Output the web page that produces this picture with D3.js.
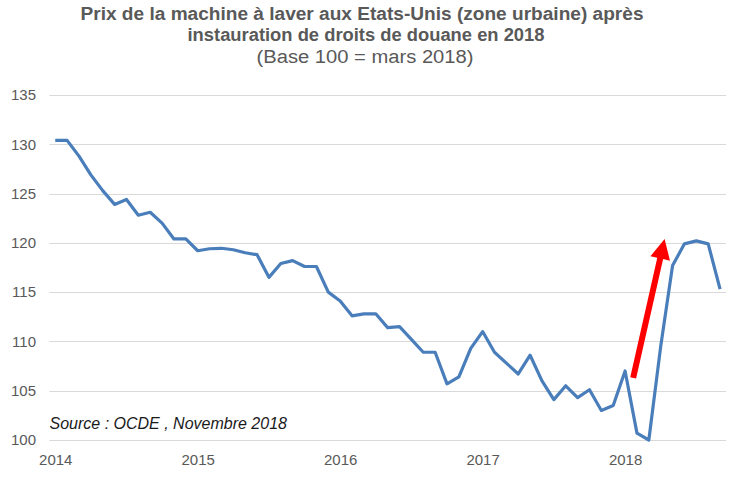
<!DOCTYPE html>
<html>
<head>
<meta charset="utf-8">
<script src="https://cdn.jsdelivr.net/npm/d3@7"></script>
<style>
  html, body { margin: 0; padding: 0; background: #fff; }
  svg { display: block; font-family: "Liberation Sans", Arial, sans-serif; }
</style>
</head>
<body>
<svg id="chart" width="742" height="478"></svg>
<script>
// ---- Data ----
const titleLines = [
  "Prix de la machine à laver aux Etats-Unis (zone urbaine) après",
  "instauration de droits de douane en 2018"
];
const subtitle = "(Base 100 = mars 2018)";
const sourceText = "Source : OCDE , Novembre 2018";

const months = [
  "2014-01","2014-02","2014-03","2014-04","2014-05","2014-06","2014-07","2014-08","2014-09","2014-10","2014-11","2014-12",
  "2015-01","2015-02","2015-03","2015-04","2015-05","2015-06","2015-07","2015-08","2015-09","2015-10","2015-11","2015-12",
  "2016-01","2016-02","2016-03","2016-04","2016-05","2016-06","2016-07","2016-08","2016-09","2016-10","2016-11","2016-12",
  "2017-01","2017-02","2017-03","2017-04","2017-05","2017-06","2017-07","2017-08","2017-09","2017-10","2017-11","2017-12",
  "2018-01","2018-02","2018-03","2018-04","2018-05","2018-06","2018-07","2018-08","2018-09"
];
const priceIndex = [
  130.4,130.4,128.8,126.9,125.3,123.9,124.4,122.8,123.1,122.0,120.4,120.4,
  119.2,119.4,119.45,119.3,119.0,118.8,116.5,117.9,118.2,117.6,117.6,115.0,
  114.1,112.6,112.8,112.8,111.4,111.5,110.2,108.9,108.9,105.7,106.4,109.3,
  111.0,108.9,107.8,106.7,108.6,106.0,104.1,105.5,104.3,105.1,103.0,103.5,
  107.0,100.7,100.0,109.5,117.7,119.9,120.2,119.9,115.3
];
const yTicks = [100,105,110,115,120,125,130,135];
const xTickMonths = ["2014-01","2015-01","2016-01","2017-01","2018-01"];
const xTickLabels = ["2014","2015","2016","2017","2018"];
// arrow annotation (month position, index value): tail -> tip
const arrowFrom = [48.68, 106.3];
const arrowTo = [51.33, 120.4];

// ---- Layout ----
const svg = d3.select("#chart");
const plot = { left: 49.3, right: 726, top: 95, bottom: 440 };

const x = d3.scaleLinear().domain([-0.5, months.length - 0.5]).range([plot.left, plot.right]);
const y = d3.scaleLinear().domain([100, 135]).range([plot.bottom, plot.top]);

// Title
const titleG = svg.append("g").attr("fill", "#595959").attr("text-anchor", "middle");
titleG.append("text").attr("x", 362).attr("y", 20).attr("font-size", 18).attr("font-weight", "bold")
  .attr("textLength", 563).attr("lengthAdjust", "spacingAndGlyphs").text(titleLines[0]);
titleG.append("text").attr("x", 366).attr("y", 41).attr("font-size", 18).attr("font-weight", "bold")
  .attr("textLength", 357).attr("lengthAdjust", "spacingAndGlyphs").text(titleLines[1]);
titleG.append("text").attr("x", 365).attr("y", 63).attr("font-size", 18)
  .attr("textLength", 217).attr("lengthAdjust", "spacingAndGlyphs").text(subtitle);

// Gridlines
svg.append("g").selectAll("line").data(yTicks).join("line")
  .attr("x1", plot.left).attr("x2", plot.right)
  .attr("y1", d => Math.round(y(d)) + 0.5).attr("y2", d => Math.round(y(d)) + 0.5)
  .attr("stroke", "#D9D9D9").attr("stroke-width", 1);

// Y axis labels
const yAxis = d3.axisLeft(y).tickValues(yTicks).tickSize(0).tickPadding(0);
const yG = svg.append("g").attr("transform", `translate(36,0)`).call(yAxis);
yG.select(".domain").remove();
yG.selectAll("text").attr("font-size", 15).attr("fill", "#595959")
  .attr("font-family", "Liberation Sans, Arial, sans-serif");

// X axis labels
const monthIndex = m => months.indexOf(m);
const xAxis = d3.axisBottom(x).tickValues(xTickMonths.map(monthIndex))
  .tickFormat((d, i) => xTickLabels[i]).tickSize(0).tickPadding(0);
const xG = svg.append("g").attr("transform", `translate(0,${plot.bottom + 14})`).call(xAxis);
xG.select(".domain").remove();
xG.selectAll("text").attr("font-size", 15).attr("fill", "#595959")
  .attr("font-family", "Liberation Sans, Arial, sans-serif");

// Line
const line = d3.line().x((d, i) => x(i)).y(d => y(d)).curve(d3.curveLinear);
svg.append("path").datum(priceIndex)
  .attr("d", line)
  .attr("fill", "none")
  .attr("stroke", "#4A7EBB")
  .attr("stroke-width", 3.2)
  .attr("stroke-linejoin", "round")
  .attr("stroke-linecap", "butt");

// Red arrow
(function drawArrow() {
  const x0 = x(arrowFrom[0]), y0 = y(arrowFrom[1]);
  const x1 = x(arrowTo[0]), y1 = y(arrowTo[1]);
  const dx = x1 - x0, dy = y1 - y0, len = Math.hypot(dx, dy);
  const ux = dx / len, uy = dy / len, nx = -uy, ny = ux;
  const shaftW = 6, headL = 20, headW = 20;
  const bx = x1 - ux * headL, by = y1 - uy * headL;
  const pts = [
    [x0 + nx * shaftW / 2, y0 + ny * shaftW / 2],
    [bx + nx * shaftW / 2, by + ny * shaftW / 2],
    [bx + nx * headW / 2, by + ny * headW / 2],
    [x1, y1],
    [bx - nx * headW / 2, by - ny * headW / 2],
    [bx - nx * shaftW / 2, by - ny * shaftW / 2],
    [x0 - nx * shaftW / 2, y0 - ny * shaftW / 2]
  ];
  svg.append("polygon").attr("points", pts.map(p => p.join(",")).join(" ")).attr("fill", "#FF0000");
})();

// Source
svg.append("text").attr("x", 49.5).attr("y", 429).attr("font-size", 16)
  .attr("font-style", "italic").attr("fill", "#1a1a1a").text(sourceText);
</script>
</body>
</html>
